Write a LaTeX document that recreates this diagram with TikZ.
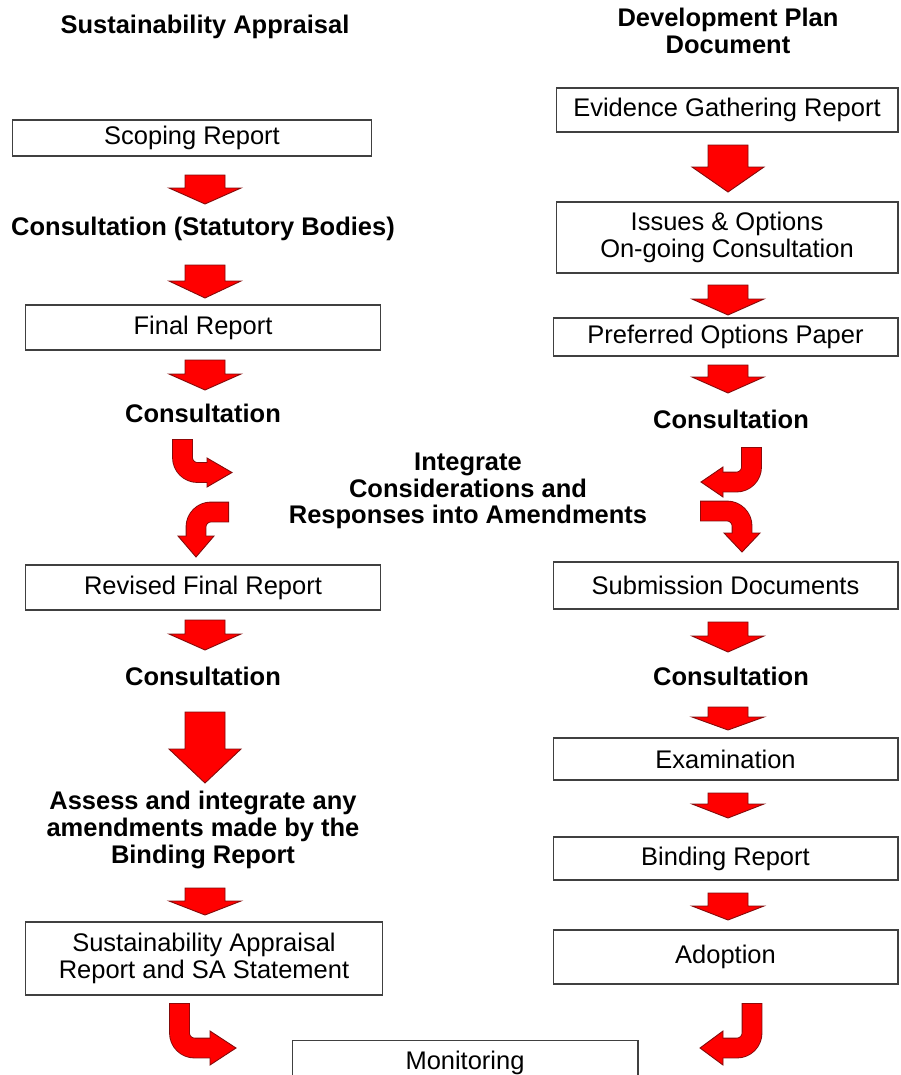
\documentclass[tikz,border=0pt]{standalone}
\usepackage{fontspec}
\setmainfont{Liberation Sans}
\usepackage{xcolor}
\usepackage{tikz}

\definecolor{arrowred}{RGB}{255,0,0}
\definecolor{arrowedge}{RGB}{130,10,10}

% straight block arrow: x, top, tip, head length
\newcommand{\dnarrow}[4]{%
  \draw[blockarrow] (#1-20,#2) -- (#1+20,#2) -- (#1+20,#3-#4) -- (#1+36,#3-#4)
    -- (#1,#3) -- (#1-36,#3-#4) -- (#1-20,#3-#4) -- cycle;}
% bent block arrow: start, corner, end, head
\newcommand{\bentarrow}[4]{%
  \draw[bandedge] #1 -- #2 -- #3;
  \filldraw[blockarrow] #4 -- cycle;
  \draw[bandfill] #1 -- #2 -- #3;}

\begin{document}
\begin{tikzpicture}[x=0.02cm,y=-0.02cm,font=\fontsize{14.5}{15.2}\selectfont]
            \tikzset{box/.style={draw=black!75, line width=0.6pt, inner sep=0pt, align=center},
                     bold/.style={font=\fontsize{14.5}{15.2}\selectfont\bfseries, align=center},
                     blockarrow/.style={fill=arrowred, draw=arrowedge, line width=0.5pt, line join=miter},
                     bandedge/.style={draw=arrowedge, line width=0.415cm, rounded corners=0.3cm},
                     bandfill/.style={draw=arrowred, line width=0.38cm, rounded corners=0.3cm, shorten <=0.5pt}}
            \useasboundingbox (0,0) rectangle (900,1075);
            \node[bold] (satitle) at (205,27) {Sustainability Appraisal};
            \node[bold] (dptitle) at (728,31) {Development Plan\\Document};
            \node[box, minimum width=7.2cm, minimum height=0.72cm] (scope) at (192,138) {Scoping Report};
            \node[bold] (cons1) at (203,229) {Consultation (Statutory Bodies)};
            \node[box, minimum width=7.12cm, minimum height=0.9cm] (final) at (203,327.5) {Final Report};
            \node[bold] (cons2) at (203,413) {Consultation};
            \node[bold] (integ) at (468,491) {Integrate\\Considerations and\\Responses into Amendments};
            \node[box, minimum width=7.12cm, minimum height=0.9cm] (revised) at (203,587.5) {Revised Final Report};
            \node[bold] (cons3) at (203,676) {Consultation};
            \node[bold] (assess) at (203,830) {Assess and integrate any\\amendments made by the\\Binding Report};
            \node[box, minimum width=7.16cm, minimum height=1.46cm] (sarep) at (204,958.5) {Sustainability Appraisal\\Report and SA Statement};
            \node[box, minimum width=6.92cm, minimum height=0.9cm, anchor=north] (monitor) at (465,1040) {\raisebox{2.5pt}{Monitoring}};
            \node[box, minimum width=6.84cm, minimum height=0.88cm] (evid) at (727,110) {Evidence Gathering Report};
            \node[box, minimum width=6.84cm, minimum height=1.42cm] (issues) at (727,237.5) {Issues \& Options\\On-going Consultation};
            \node[box, minimum width=6.9cm, minimum height=0.76cm] (pref) at (725.5,337) {Preferred Options Paper};
            \node[bold] (cons4) at (731,419) {Consultation};
            \node[box, minimum width=6.9cm, minimum height=0.94cm] (subm) at (725.5,585.5) {Submission Documents};
            \node[bold] (cons5) at (731,676) {Consultation};
            \node[box, minimum width=6.9cm, minimum height=0.84cm] (exam) at (725.5,759) {Examination};
            \node[box, minimum width=6.9cm, minimum height=0.86cm] (bind) at (725.5,858.5) {Binding Report};
            \node[box, minimum width=6.9cm, minimum height=1.08cm] (adopt) at (725.5,957) {Adoption};
            \dnarrow{205}{175}{204}{16}
            \dnarrow{205}{265}{298}{17}
            \dnarrow{205}{360}{390}{16}
            \dnarrow{205}{620}{650}{16}
            \dnarrow{205}{712}{783}{34}
            \dnarrow{205}{888}{915}{14}
            \dnarrow{728}{145}{192}{25}
            \dnarrow{728}{285}{315}{16}
            \dnarrow{728}{365}{393}{16}
            \dnarrow{728}{622}{652}{16}
            \dnarrow{728}{707}{730}{13}
            \dnarrow{728}{793}{818}{14}
            \dnarrow{728}{893}{920}{14}
            \bentarrow{(182.5,439)}{(182.5,472.5)}{(209,472.5)}{(207,458) -- (232,472.5) -- (207,487)}
            \bentarrow{(229,512)}{(196,512)}{(196,538)}{(178,536) -- (196,557) -- (214,536)}
            \bentarrow{(751.5,447)}{(751.5,482)}{(721,482)}{(723,467) -- (701,482) -- (723,497)}
            \bentarrow{(700,511)}{(742,511)}{(742,535)}{(724,533) -- (742,552) -- (760,533)}
            \bentarrow{(179.5,1003)}{(179.5,1048)}{(212,1048)}{(210,1031) -- (236,1048) -- (210,1065)}
            \bentarrow{(752,1003)}{(752,1048)}{(721,1048)}{(723,1031) -- (700,1048) -- (723,1065)}
        \end{tikzpicture}
\end{document}
